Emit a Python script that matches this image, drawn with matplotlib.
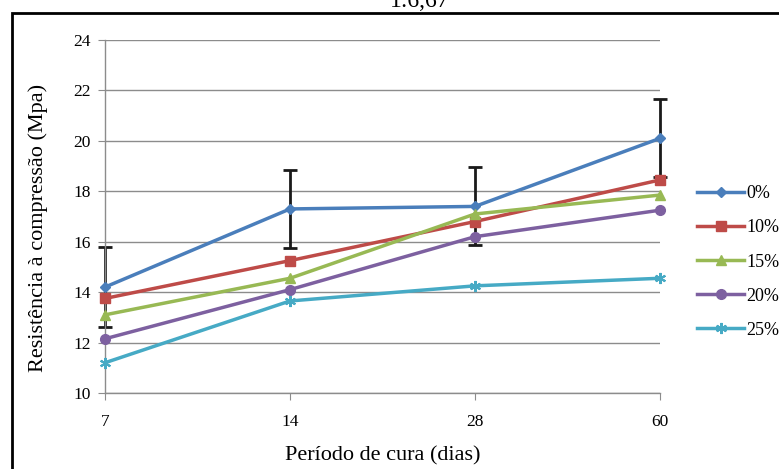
import matplotlib
matplotlib.use("Agg")
import matplotlib.pyplot as plt
from matplotlib.patches import Rectangle

# Curing period categories and compressive strength per replacement level
periods = ["7", "14", "28", "60"]
series_names = ["0%", "10%", "15%", "20%", "25%"]
s0 = [14.2, 17.3, 17.4, 20.1]
s10 = [13.75, 15.25, 16.8, 18.45]
s15 = [13.1, 14.55, 17.1, 17.85]
s20 = [12.15, 14.1, 16.2, 17.25]
s25 = [11.2, 13.65, 14.25, 14.55]
err0 = [1.6, 1.55, 1.55, 1.55]
yticks = [10, 12, 14, 16, 18, 20, 22, 24]

colors = ["#4A7EBB", "#BE4B48", "#98B954", "#7D60A0", "#46AAC5"]
markers = ["D", "s", "^", "o", (6, 2, 0)]
msizes = [5.5, 7, 7, 7, 8]

plt.rcParams["font.family"] = ["Liberation Serif", "DejaVu Serif"]

W, H = 779, 469
fig = plt.figure(figsize=(W / 100, H / 100), dpi=100)

# outer frame
fig.patches.append(Rectangle((12 / W, -0.05), 1.2, 1 - 13 / H + 0.05,
                             transform=fig.transFigure, fill=False,
                             edgecolor="black", linewidth=2))

fig.text(420 / W, 1 - 7 / H, "1:6,67", ha="center", va="baseline", fontsize=17)

ax = fig.add_axes([105 / W, 1 - 393 / H, (660 - 105) / W, (393 - 40) / H])
x = list(range(len(periods)))
data = [s0, s10, s15, s20, s25]

eb = ax.errorbar(x, s0, yerr=err0, fmt="none", ecolor="#1a1a1a", elinewidth=2,
                 capsize=5, capthick=2, zorder=2)
for artist in eb.lines[1] + eb.lines[2]:
    artist.set_clip_on(False)
for vals, name, c, m, ms in zip(data, series_names, colors, markers, msizes):
    ax.plot(x, vals, color=c, marker=m, markersize=ms, linewidth=2.5,
            markeredgecolor=c, markeredgewidth=1.5 if m == (6, 2, 0) else 1,
            label=name, zorder=3, clip_on=False)

ax.set_xlim(0, 3)
ax.set_ylim(10, 24)
ax.set_xticks(x)
ax.set_xticklabels(periods)
ax.set_yticks(yticks)
ax.set_yticklabels([str(t) for t in yticks])
ax.yaxis.grid(True, color="#8c8c8c", linewidth=1)
ax.set_axisbelow(True)
for side in ["top", "right"]:
    ax.spines[side].set_visible(False)
for side in ["left", "bottom"]:
    ax.spines[side].set_color("#8c8c8c")
    ax.spines[side].set_linewidth(1)
ax.tick_params(axis="both", direction="out", length=5, color="#8c8c8c",
               labelsize=12.5, pad=5)
ax.tick_params(axis="x", pad=10)

ax.set_xlabel("Período de cura (dias)", fontsize=16)
ax.set_ylabel("Resistência à compressão (Mpa)", fontsize=16)
ax.xaxis.set_label_coords(0.5, (393 - 446) / 353)
ax.yaxis.set_label_coords((48 - 105) / 555, (393 - 228) / 353)

ax.legend(loc="center left", bbox_to_anchor=(690 / W, 1 - 262 / H),
          bbox_transform=fig.transFigure, frameon=False, fontsize=13,
          handlelength=2.6, handletextpad=0.1, labelspacing=0.95,
          borderaxespad=0)

fig.savefig("out.png", dpi=100)
